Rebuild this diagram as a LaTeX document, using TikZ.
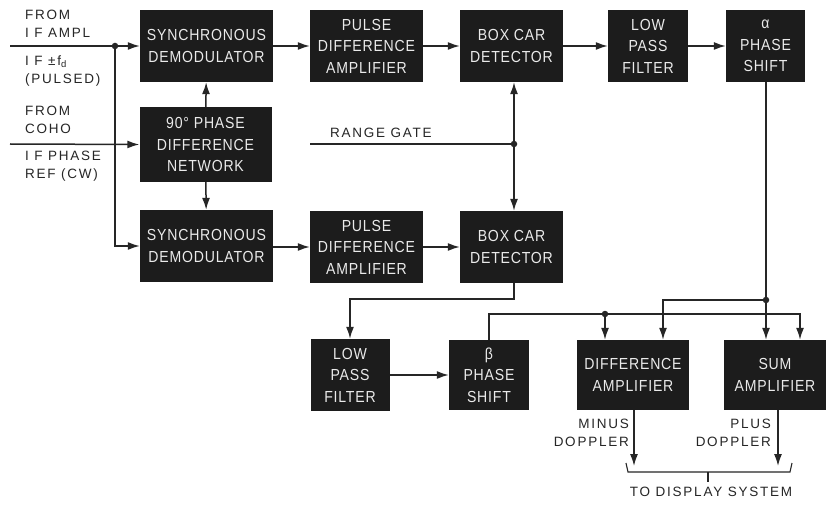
\documentclass[tikz,border=0pt]{standalone}
\usepackage{fontspec}
\setmainfont{Liberation Sans}
\newfontfamily\boxfont{Liberation Sans}[FakeStretch=0.88, LetterSpace=5]
\newfontfamily\lblfont{Liberation Sans}[LetterSpace=13]
\usetikzlibrary{arrows.meta}
\definecolor{boxc}{HTML}{1C1C1C}
\definecolor{txtc}{HTML}{EAEAEA}
\definecolor{linec}{HTML}{262626}
\begin{document}
\begin{tikzpicture}[x=1pt,y=-1pt,
  blk/.style={fill=boxc, text=txtc, font=\boxfont\fontsize{16}{21.5}\selectfont, align=center, inner sep=0pt},
  conn/.style={draw=linec, line width=1.5pt},
  arr/.style={conn, -{Latex[length=12pt,width=8pt]}},
  lbl/.style={text=linec, font=\lblfont\fontsize{13.5}{18}\selectfont, inner sep=0pt},
  jdot/.style={circle, fill=linec, inner sep=0pt, minimum size=6.5pt}]
\useasboundingbox[fill=white] (0,0) rectangle (827,505);

% boxes
\node[blk, minimum width=133pt, minimum height=72pt] (sd1) at (206.5,46) {SYNCHRONOUS\\DEMODULATOR};
\node[blk, minimum width=132pt, minimum height=75pt] (pdn) at (205.5,144.5) {90° PHASE\\DIFFERENCE\\NETWORK};
\node[blk, minimum width=133pt, minimum height=72pt] (sd2) at (206.5,246) {SYNCHRONOUS\\DEMODULATOR};
\node[blk, minimum width=113pt, minimum height=72pt] (pda1) at (366.5,46) {PULSE\\DIFFERENCE\\AMPLIFIER};
\node[blk, minimum width=103pt, minimum height=72pt] (bc1) at (511.5,46) {BOX CAR\\DETECTOR};
\node[blk, minimum width=80pt, minimum height=72pt] (lpf1) at (648,46) {LOW\\PASS\\FILTER};
\node[blk, minimum width=79pt, minimum height=72pt] (alpha) at (765.5,46) {α\\PHASE\\SHIFT};
\node[blk, minimum width=113pt, minimum height=72pt] (pda2) at (366.5,247) {PULSE\\DIFFERENCE\\AMPLIFIER};
\node[blk, minimum width=103pt, minimum height=72pt] (bc2) at (511.5,247) {BOX CAR\\DETECTOR};
\node[blk, minimum width=79pt, minimum height=72pt] (lpf2) at (350,375) {LOW\\PASS\\FILTER};
\node[blk, minimum width=80pt, minimum height=70pt] (beta) at (489,375) {β\\PHASE\\SHIFT};
\node[blk, minimum width=112pt, minimum height=70pt] (diff) at (633,375) {DIFFERENCE\\AMPLIFIER};
\node[blk, minimum width=102pt, minimum height=70pt] (sum) at (775,375) {SUM\\AMPLIFIER};

% left labels
\node[lbl, anchor=west, align=left] (l1) at (25,24) {FROM\\I F AMPL};
\node[lbl, anchor=west, align=left] (l2) at (25,71) {I F ±f\textsubscript{d}\\(PULSED)};
\node[lbl, anchor=west, align=left] (l3) at (25,120) {FROM\\COHO};
\node[lbl, anchor=west, align=left] (l4) at (25,166) {I F PHASE\\REF (CW)};
\node[lbl, anchor=west] (rgl) at (330,133) {RANGE GATE};
\node[lbl, anchor=east, align=right] (mdl) at (629,432.5) {MINUS\\DOPPLER};
\node[lbl, anchor=east, align=right] (pdl) at (771,432.5) {PLUS\\DOPPLER};
\node[lbl] (disp) at (711,492) {TO DISPLAY SYSTEM};

% coordinates
\coordinate (in1) at (10,46);
\coordinate (in2) at (10,144);
\coordinate (rg) at (310,144);
\coordinate (t1) at (514,299);
\coordinate (c1) at (663,300);
\coordinate (b2) at (800,314);
\coordinate (o1) at (634,466);
\coordinate (o2) at (778,466);
\node[jdot] (j1) at (115,46) {};
\node[jdot] (rgj) at (514,144) {};
\node[jdot] (d1) at (766,300) {};
\node[jdot] (d2) at (605,314) {};

% left inputs
\draw[arr] (in1) -- (sd1.west);
\draw[arr] (j1.center) |- (sd2.west);
\draw[arr] (in2) -- (pdn.west);
\draw[arr] (pdn) -- (sd1);
\draw[arr] (pdn) -- (sd2);

% top chain
\draw[arr] (sd1) -- (pda1);
\draw[arr] (pda1) -- (bc1);
\draw[arr] (bc1) -- (lpf1);
\draw[arr] (lpf1) -- (alpha);
% second chain
\draw[arr] (sd2.east |- pda2) -- (pda2);
\draw[arr] (pda2) -- (bc2);

% range gate
\draw[conn] (rg) -- (rgj.center);
\draw[arr] (rgj.center) -- (rgj |- bc1.south);
\draw[arr] (rgj.center) -- (rgj |- bc2.north);

% box car 2 to low pass 2
\draw[arr] (t1 |- bc2.south) -- (t1) -| (lpf2.north);
\draw[arr] (lpf2) -- (beta);

% beta distribution
\draw[arr] (beta.north) |- (b2) -- (b2 |- sum.north);
\draw[arr] (d2.center) -- (d2 |- diff.north);

% alpha distribution
\draw[arr] (alpha.south -| d1) -- (d1.center) -- (d1 |- sum.north);
\draw[arr] (d1.center) -- (c1) -- (c1 |- diff.north);

% outputs
\draw[arr] (o1 |- diff.south) -- (o1);
\draw[arr] (o2 |- sum.south) -- (o2);

% bracket
\draw[conn, line width=1.1pt] (626,463) -- (628,472) -- (790,472) -- (792,463);
\draw[conn, line width=1.1pt] (708,472) -- (708,482);
\end{tikzpicture}
\end{document}
